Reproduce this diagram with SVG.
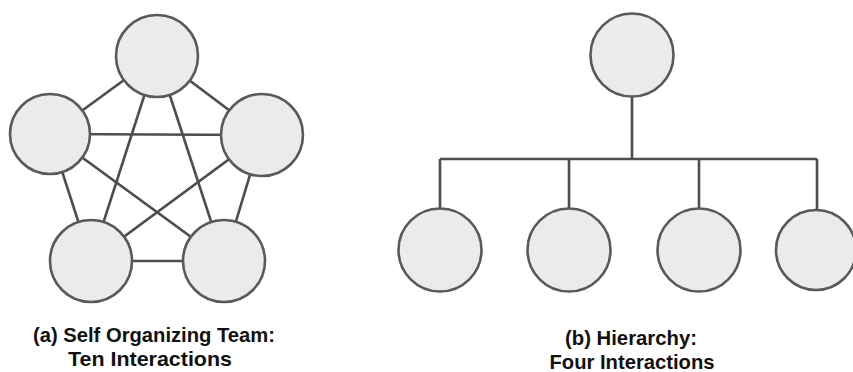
<svg xmlns="http://www.w3.org/2000/svg" width="853" height="372" viewBox="0 0 853 372">
<style>
.node circle{fill:#ebebeb;stroke:#595959;stroke-width:2.6}
.edges line,.edges path{stroke:#4d4d4d;stroke-width:2.6;fill:none}
.lbl{font-family:"Liberation Sans",Arial,sans-serif;font-weight:bold;font-size:20.5px;fill:#111;text-anchor:middle}
</style>
<rect width="853" height="372" fill="#fff"/>
<g id="edges-a" class="edges">
<line x1="157" y1="56" x2="50" y2="134"/>
<line x1="157" y1="56" x2="262" y2="135"/>
<line x1="157" y1="56" x2="91" y2="261"/>
<line x1="157" y1="56" x2="224" y2="261"/>
<line x1="50" y1="134" x2="262" y2="135"/>
<line x1="50" y1="134" x2="91" y2="261"/>
<line x1="50" y1="134" x2="224" y2="261"/>
<line x1="262" y1="135" x2="91" y2="261"/>
<line x1="262" y1="135" x2="224" y2="261"/>
<line x1="91" y1="261" x2="224" y2="261"/>
</g>
<g id="edges-b" class="edges">
<path d="M632 96 V159 M440 159 H817 M440 159 V209 M569 159 V209 M699 159 V209 M817 159 V209"/>
</g>
<g id="a-top" class="node"><circle cx="157" cy="56" r="41"/></g>
<g id="a-left" class="node"><circle cx="50" cy="134" r="40"/></g>
<g id="a-right" class="node"><circle cx="262" cy="135" r="41"/></g>
<g id="a-bl" class="node"><circle cx="91" cy="261" r="41"/></g>
<g id="a-br" class="node"><circle cx="224" cy="261" r="41"/></g>
<g id="b-top" class="node"><circle cx="632" cy="55" r="41.5"/></g>
<g id="b-1" class="node"><circle cx="440" cy="250" r="41.5"/></g>
<g id="b-2" class="node"><circle cx="569" cy="250" r="41.5"/></g>
<g id="b-3" class="node"><circle cx="699" cy="250" r="41.5"/></g>
<g id="b-4" class="node"><circle cx="816" cy="250" r="40"/></g>
<g id="label-a">
<text class="lbl" x="154" y="342" textLength="242" lengthAdjust="spacingAndGlyphs">(a) Self Organizing Team:</text>
<text class="lbl" x="150" y="366" textLength="164" lengthAdjust="spacingAndGlyphs">Ten Interactions</text>
</g>
<g id="label-b">
<text class="lbl" x="631" y="345" textLength="132" lengthAdjust="spacingAndGlyphs">(b) Hierarchy:</text>
<text class="lbl" x="632" y="369" textLength="165" lengthAdjust="spacingAndGlyphs">Four Interactions</text>
</g>
</svg>
